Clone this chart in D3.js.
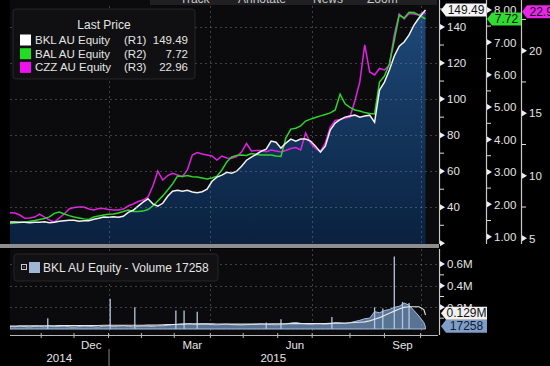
<!DOCTYPE html>
<html><head><meta charset="utf-8">
<script src="https://cdn.jsdelivr.net/npm/d3@7"></script>
<style>html,body{margin:0;padding:0;background:#000;overflow:hidden}</style>
</head><body><svg id="c" width="550" height="366"></svg>
<script>
// ---------- DATA ----------
const startDate = "2014-10-07";
const endDate = "2015-10-06";
const holidays = ["2014-12-25","2014-12-26","2015-01-01","2015-01-26","2015-04-03","2015-04-06","2015-06-08"];
const sampleStep = 3; // one value every 3 trading days, plus the last day

const seriesNames = ["BKL AU Equity","BAL AU Equity","CZZ AU Equity"];
const seriesAxes = ["(R1)","(R2)","(R3)"];
const lastValues = ["149.49","7.72","22.96"];

const bklPrice = [31.8,31.8,31.7,31.7,31.4,31.7,31.7,31.9,31.4,31.7,
32.2,32.5,32.8,32.8,32.2,32.5,32.5,33.3,33.9,34.6,
34.4,34.7,34.4,35.0,37.2,38.3,40.6,42.8,44.7,41.9,
40.6,42.2,46.1,48.9,49.4,48.9,49.4,48.5,48.1,48.6,
50.0,54.4,56.7,57.8,59.4,58.9,60.0,62.8,66.1,67.8,
69.4,71.1,72.2,76.7,76.1,72.8,75.6,77.8,76.7,77.8,
77.8,76.7,73.9,70.6,73.9,82.8,86.7,88.6,90.0,90.6,
91.1,90.0,90.6,91.1,87.2,105.0,109.4,116.1,123.9,129.4,
131.7,135.6,141.1,145.0,148.3,149.49];

const balPrice = [1.41,1.42,1.44,1.45,1.48,1.50,1.53,1.56,1.61,1.72,
1.76,1.70,1.65,1.61,1.58,1.55,1.53,1.61,1.64,1.67,
1.69,1.70,1.73,1.78,1.82,1.78,1.78,1.79,1.84,1.95,
2.10,2.26,2.44,2.63,2.87,2.86,2.89,2.85,2.84,2.81,
2.78,2.81,2.87,3.06,3.31,3.46,3.51,3.52,3.51,3.57,
3.54,3.52,3.52,3.52,3.49,3.48,4.05,4.32,4.35,4.42,
4.57,4.63,4.68,4.73,4.77,4.82,4.91,5.40,5.10,4.99,
4.91,4.88,4.83,4.80,4.79,5.77,5.96,6.33,7.07,7.84,
7.75,7.93,7.92,7.84,7.75,7.72];

const czzPrice = [7.05,7.02,6.86,6.60,6.62,6.70,6.94,6.70,6.46,6.30,
6.62,6.94,7.34,7.46,7.50,7.50,7.34,7.26,7.38,7.38,
7.30,7.26,7.26,7.34,7.58,7.74,7.94,8.06,8.30,9.18,
10.38,9.66,10.02,10.20,10.06,9.93,10.46,11.66,11.86,11.74,
11.66,11.58,11.26,11.58,11.42,11.40,11.54,11.90,12.58,11.98,
12.02,12.02,11.93,12.06,11.98,11.90,12.02,12.18,12.26,12.06,
13.42,12.62,12.18,11.94,12.62,13.90,14.42,14.50,14.62,14.70,
15.98,17.50,20.46,18.30,18.06,18.58,18.46,18.86,21.26,22.94,
22.54,22.98,22.94,22.86,23.10,22.96];

// volume in millions of shares
const bklVolume = [0.025,0.020,0.030,0.022,0.018,0.026,0.024,0.020,0.028,0.022,
0.025,0.030,0.020,0.018,0.022,0.027,0.024,0.021,0.019,0.025,
0.028,0.022,0.026,0.030,0.024,0.020,0.023,0.027,0.025,0.022,
0.030,0.028,0.035,0.040,0.042,0.045,0.050,0.048,0.042,0.046,
0.044,0.040,0.038,0.042,0.045,0.040,0.038,0.036,0.040,0.042,
0.045,0.048,0.044,0.040,0.038,0.042,0.046,0.055,0.060,0.052,
0.048,0.044,0.050,0.046,0.042,0.048,0.060,0.055,0.050,0.058,
0.070,0.080,0.095,0.100,0.160,0.150,0.170,0.180,0.200,0.210,
0.240,0.220,0.170,0.120,0.060,0.017];

const bklVolumeAvg = [0.028,0.028,0.028,0.029,0.029,0.029,0.030,0.030,0.030,0.030,
0.031,0.031,0.031,0.031,0.032,0.032,0.032,0.032,0.033,0.034,
0.035,0.035,0.034,0.034,0.034,0.034,0.035,0.035,0.036,0.036,
0.037,0.038,0.040,0.042,0.044,0.045,0.046,0.046,0.047,0.047,
0.047,0.047,0.046,0.046,0.046,0.045,0.045,0.045,0.045,0.045,
0.045,0.046,0.046,0.047,0.047,0.048,0.049,0.050,0.050,0.050,
0.050,0.050,0.050,0.051,0.051,0.052,0.053,0.054,0.055,0.057,
0.060,0.063,0.066,0.075,0.090,0.105,0.125,0.145,0.165,0.185,
0.200,0.205,0.205,0.205,0.180,0.129];

const volSpikeDates = ["2014-11-07","2015-01-05","2015-01-27","2015-03-03","2015-03-10","2015-03-20","2015-05-21","2015-06-03","2015-07-17","2015-08-24","2015-08-31","2015-09-09","2015-09-16","2015-09-22"];
const volSpikeValues = [0.10,0.28,0.20,0.17,0.17,0.16,0.06,0.09,0.11,0.20,0.19,0.67,0.25,0.24];

const r1Ticks = [20,40,60,80,100,120,140];
const r2Ticks = [1,2,3,4,5,6,7,8];
const r3Ticks = [5,10,15,20];
const volTicks = [0.2,0.4,0.6];
const volTickLabels = ["0.2M","0.4M","0.6M"];
const monthLabels = {"Dec":"Dec","Mar":"Mar","Jun":"Jun","Sep":"Sep"};
const yearLabels = ["2014","2015"];
const toolbarItems = ["Track","Annotate","News","Zoom"];

// ---------- SETUP ----------
const FONT = "'Liberation Sans', Arial, sans-serif";
const svg = d3.select("#c");
const fmt = d3.utcFormat("%Y-%m-%d");
const parse = d3.utcParse("%Y-%m-%d");
const hol = new Set(holidays);
const tradingDays = [];
for (let d = parse(startDate); d <= parse(endDate); d = d3.utcDay.offset(d, 1)) {
  const wd = d.getUTCDay();
  if (wd !== 0 && wd !== 6 && !hol.has(fmt(d))) tradingDays.push(fmt(d));
}
const nDays = tradingDays.length;
const dayIndex = new Map(tradingDays.map((d, i) => [d, i]));
const sampleIdx = d3.range(0, nDays - 1, sampleStep).concat([nDays - 1]);

const PL = 10, PR = 438, PT = 6, PB = 244, VT = 249, VB = 335;
const x = d3.scaleLinear().domain([0, nDays - 1]).range([10, 425.5]);
const yR1 = d3.scaleLinear().domain([20, 140]).range([243.3, 27]);
const yR2 = d3.scaleLinear().domain([1, 7]).range([236.7, 42.3]);
const yR3 = d3.scaleLinear().domain([5, 20]).range([238.3, 50.7]);
const yV = d3.scaleLinear().domain([0, 0.6]).range([329, 264]);

const defs = svg.append("defs");
const grad = defs.append("linearGradient").attr("id", "ag").attr("x1", 0).attr("x2", 0)
  .attr("gradientUnits", "userSpaceOnUse").attr("y1", 0).attr("y2", PB);
grad.append("stop").attr("offset", 0).attr("stop-color", "#1f4b7c");
grad.append("stop").attr("offset", 1).attr("stop-color", "#0a213f");
defs.append("clipPath").attr("id", "cp").append("rect").attr("x", PL).attr("y", 0).attr("width", PR - PL).attr("height", PB);
defs.append("clipPath").attr("id", "cv").append("rect").attr("x", PL).attr("y", VT).attr("width", PR - PL).attr("height", VB - VT);

svg.append("rect").attr("width", 550).attr("height", 366).attr("fill", "#000");
// panels
svg.append("rect").attr("x", PL).attr("y", 0).attr("width", PR - PL).attr("height", PB).attr("fill", "#0b0b0d");
svg.append("rect").attr("x", PL).attr("y", VT).attr("width", PR - PL).attr("height", VB - VT).attr("fill", "#0b0b0d");
svg.append("rect").attr("x", 0).attr("y", PB).attr("width", PR + 1).attr("height", 4).attr("fill", "#8e8e8e");

// toolbar
svg.append("rect").attr("x", 150).attr("y", 0).attr("width", 287).attr("height", 5).attr("fill", "#202022");
const tbx = [180, 238, 313, 367];
toolbarItems.forEach((t, i) => {
  svg.append("text").attr("x", tbx[i]).attr("y", 3).attr("font-family", FONT).attr("font-size", 12)
    .attr("fill", "#c8c8c8").text(t);
});

// month starts
const monthStarts = [];
tradingDays.forEach((d, i) => { if (i === 0 || d.slice(0, 7) !== tradingDays[i - 1].slice(0, 7)) monthStarts.push(i); });
const quarterStarts = monthStarts.filter(i => ["01","04","07","10"].includes(tradingDays[i].slice(5, 7)) && i > 0);

// ---------- MAIN PANEL ----------
const main = svg.append("g").attr("clip-path", "url(#cp)");
const pts = (arr) => sampleIdx.map((di, k) => [di, arr[k]]);
main.append("path").datum(pts(bklPrice))
  .attr("d", d3.area().x(d => x(d[0])).y0(PB).y1(d => yR1(d[1])))
  .attr("fill", "url(#ag)");

// grid
const gridStyle = sel => sel.attr("stroke", "#8a8a8a").attr("stroke-opacity", 0.42).attr("stroke-width", 1).attr("stroke-dasharray", "2,3");
r1Ticks.filter(t => t >= 40).forEach(t => {
  gridStyle(svg.append("line").attr("x1", PL).attr("x2", PR).attr("y1", Math.round(yR1(t)) + 0.5).attr("y2", Math.round(yR1(t)) + 0.5));
});
quarterStarts.forEach(i => {
  const xx = Math.round(x(i)) + 0.5;
  gridStyle(svg.append("line").attr("x1", xx).attr("x2", xx).attr("y1", 6).attr("y2", PB));
  gridStyle(svg.append("line").attr("x1", xx).attr("x2", xx).attr("y1", VT).attr("y2", VB));
});
volTicks.forEach(t => {
  gridStyle(svg.append("line").attr("x1", PL).attr("x2", PR).attr("y1", Math.round(yV(t)) + 0.5).attr("y2", Math.round(yV(t)) + 0.5));
});

const line = (ys) => d3.line().x(d => x(d[0])).y(d => ys(d[1]));
main.append("path").datum(pts(czzPrice)).attr("d", line(yR3)).attr("fill", "none").attr("stroke", "#e022e0").attr("stroke-width", 1.5);
main.append("path").datum(pts(balPrice)).attr("d", line(yR2)).attr("fill", "none").attr("stroke", "#2bd62b").attr("stroke-width", 1.5);
main.append("path").datum(pts(bklPrice)).attr("d", line(yR1)).attr("fill", "none").attr("stroke", "#f2f2f2").attr("stroke-width", 1.5);

// ---------- VOLUME PANEL ----------
const vol = svg.append("g").attr("clip-path", "url(#cv)");
vol.append("path").datum(pts(bklVolume))
  .attr("d", d3.area().x(d => x(d[0])).y0(yV(0)).y1(d => yV(d[1])))
  .attr("fill", "#6d8db8").attr("fill-opacity", 0.8).attr("stroke", "#a9bfdd").attr("stroke-width", 1);
volSpikeDates.forEach((d, k) => {
  const i = dayIndex.get(d);
  if (i === undefined) return;
  vol.append("line").attr("x1", x(i)).attr("x2", x(i)).attr("y1", yV(0)).attr("y2", yV(volSpikeValues[k]))
    .attr("stroke", "#b4c7e2").attr("stroke-width", 1.3);
});
vol.append("path").datum(pts(bklVolumeAvg)).attr("d", line(yV)).attr("fill", "none").attr("stroke", "#e6e6e6").attr("stroke-width", 1.1);

// ---------- AXES ----------
const axisCol = "#c8c8c8", labCol = "#e4e4e4";
function vAxis(ax, y0, y1) {
  svg.append("line").attr("x1", ax + 0.5).attr("x2", ax + 0.5).attr("y1", y0).attr("y2", y1).attr("stroke", axisCol).attr("stroke-width", 1.2);
}
function tri(ax, y) {
  svg.append("path").attr("d", `M${ax + 1},${y - 3}L${ax + 6},${y}L${ax + 1},${y + 3}Z`).attr("fill", "#eee");
}
function minor(ax, y) {
  svg.append("line").attr("x1", ax + 1).attr("x2", ax + 5).attr("y1", y).attr("y2", y).attr("stroke", "#ddd").attr("stroke-width", 1);
}
function lab(ax, y, t) {
  svg.append("text").attr("x", ax + 8).attr("y", y + 4.2).attr("font-family", FONT).attr("font-size", 11.5).attr("fill", labCol).text(t);
}
vAxis(439, 0, PB); vAxis(486, 0, PB); vAxis(521, 0, PB);
r1Ticks.forEach(t => { tri(439, yR1(t)); if (t >= 40) lab(439, yR1(t), t); if (yR1(t + 10) > 0) minor(439, yR1(t + 10)); });
r2Ticks.forEach(t => { tri(486, yR2(t)); lab(486, yR2(t), t.toFixed(2)); if (yR2(t + 0.5) > 0) minor(486, yR2(t + 0.5)); });
r3Ticks.forEach(t => { tri(521, yR3(t)); lab(521, yR3(t), t); if (yR3(t + 2.5) > 0) minor(521, yR3(t + 2.5)); });

vAxis(439, VT, VB);
volTicks.forEach((t, k) => { tri(439, yV(t)); lab(439, yV(t), volTickLabels[k]); minor(439, yV(t - 0.1)); });

// tags
function tag(x0, x1, yc, fill, txt, tcol, stroke) {
  const h = 6.5;
  svg.append("path").attr("d", `M${x0},${yc}L${x0 + 5},${yc - h}L${x1},${yc - h}L${x1},${yc + h}L${x0 + 5},${yc + h}Z`)
    .attr("fill", fill).attr("stroke", stroke || "none").attr("stroke-width", 1);
  svg.append("text").attr("x", (x0 + 5 + x1) / 2).attr("y", yc + 4.2).attr("text-anchor", "middle").attr("font-family", FONT)
    .attr("font-size", 12).attr("fill", tcol).text(txt);
}
tag(441, 486, yR1(bklPrice[bklPrice.length - 1]), "#f4f4f4", lastValues[0], "#111");
tag(487, 521, yR2(balPrice[balPrice.length - 1]), "#2fdc2f", lastValues[1], "#111");
tag(522, 562, yR3(czzPrice[czzPrice.length - 1]) - 2, "#e826e8", lastValues[2], "#111");
const vLast = bklVolume[bklVolume.length - 1], aLast = bklVolumeAvg[bklVolumeAvg.length - 1];
tag(441, 487, yV(vLast) - 1, "#7f9dc6", "17258", "#0c1c33");
tag(441, 487, Math.min(yV(aLast), yV(vLast) - 14), "#f0f0f0", "0.129M", "#111");

// x axis
svg.append("line").attr("x1", PL).attr("x2", PR).attr("y1", VB + 0.5).attr("y2", VB + 0.5).attr("stroke", "#b8b8b8").attr("stroke-width", 1.2);
monthStarts.slice(1).forEach(i => {
  svg.append("line").attr("x1", x(i)).attr("x2", x(i)).attr("y1", VB - 2).attr("y2", VB + 3).attr("stroke", "#b8b8b8");
});
const mNames = ["Jan","Feb","Mar","Apr","May","Jun","Jul","Aug","Sep","Oct","Nov","Dec"];
monthStarts.forEach((s, k) => {
  const e = k + 1 < monthStarts.length ? monthStarts[k + 1] : nDays;
  const name = mNames[+tradingDays[s].slice(5, 7) - 1];
  if (!monthLabels[name] || k + 1 >= monthStarts.length) return;
  svg.append("text").attr("x", (x(s) + x(e)) / 2).attr("y", 349).attr("text-anchor", "middle").attr("font-family", FONT)
    .attr("font-size", 11.5).attr("fill", labCol).text(monthLabels[name]);
});
const yearStart = monthStarts.find(i => tradingDays[i].slice(5, 7) === "01");
svg.append("line").attr("x1", x(yearStart) + 0.5).attr("x2", x(yearStart) + 0.5).attr("y1", 349).attr("y2", 366).attr("stroke", "#8a8a8a");
svg.append("text").attr("x", (PL + x(yearStart)) / 2).attr("y", 362).attr("text-anchor", "middle").attr("font-family", FONT)
  .attr("font-size", 11.5).attr("fill", labCol).text(yearLabels[0]);
svg.append("text").attr("x", (x(yearStart) + PR) / 2).attr("y", 362).attr("text-anchor", "middle").attr("font-family", FONT)
  .attr("font-size", 11.5).attr("fill", labCol).text(yearLabels[1]);

// ---------- LEGENDS ----------
const lg = svg.append("g");
lg.append("rect").attr("x", 13).attr("y", 9).attr("width", 182).attr("height", 70).attr("rx", 3)
  .attr("fill", "#101012").attr("stroke", "#262628");
lg.append("text").attr("x", 104).attr("y", 29).attr("text-anchor", "middle").attr("font-family", FONT).attr("font-size", 12)
  .attr("fill", labCol).text("Last Price");
const swCols = ["#ffffff", "#22dd22", "#ee11ee"];
seriesNames.forEach((n, i) => {
  const yy = 44 + i * 13.7;
  lg.append("rect").attr("x", 20).attr("y", yy - 9.5).attr("width", 11).attr("height", 11).attr("fill", swCols[i]);
  lg.append("text").attr("x", 35).attr("y", yy).attr("font-family", FONT).attr("font-size", 11.5).attr("fill", labCol).text(n);
  lg.append("text").attr("x", 124).attr("y", yy).attr("font-family", FONT).attr("font-size", 11.5).attr("fill", labCol).text(seriesAxes[i]);
  lg.append("text").attr("x", 188).attr("y", yy).attr("text-anchor", "end").attr("font-family", FONT).attr("font-size", 11.5).attr("fill", labCol).text(lastValues[i]);
});

const vg = svg.append("g");
vg.append("rect").attr("x", 14).attr("y", 254).attr("width", 204).attr("height", 27).attr("rx", 3).attr("fill", "#111113").attr("stroke", "#262628");
vg.append("rect").attr("x", 21.5).attr("y", 264.5).attr("width", 5).attr("height", 5).attr("fill", "none").attr("stroke", "#ccc");
vg.append("rect").attr("x", 23.5).attr("y", 266.5).attr("width", 1).attr("height", 1).attr("fill", "#ccc");
vg.append("rect").attr("x", 29).attr("y", 262).attr("width", 11).attr("height", 11).attr("fill", "#9fb6d6");
vg.append("text").attr("x", 43).attr("y", 272).attr("font-family", FONT).attr("font-size", 12).attr("fill", labCol)
  .text("BKL AU Equity - Volume 17258");
</script></body></html>
